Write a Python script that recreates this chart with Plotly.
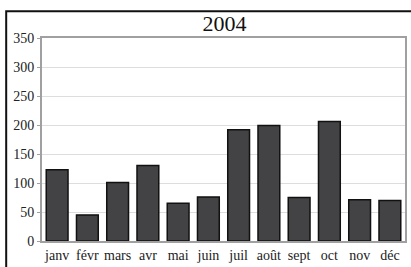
import plotly.graph_objects as go

months = ["janv", "févr", "mars", "avr", "mai", "juin", "juil", "août", "sept", "oct", "nov", "déc"]
values = [123, 45, 101, 130, 65, 76, 192, 199, 75, 206, 71, 70]
y_ticks = [0, 50, 100, 150, 200, 250, 300, 350]
title_text = "2004"

W, H = 411, 267
L, R, T, B = 42, 4, 38, 25
pw, ph = W - L - R, H - T - B

fig = go.Figure(go.Bar(
    x=months, y=values,
    marker=dict(color="#434345", line=dict(color="#111111", width=1.5)),
    width=0.72,
    hoverinfo="skip",
))

font = "Liberation Serif"
fig.update_layout(
    width=W, height=H,
    margin=dict(l=L, r=R, t=T, b=B),
    paper_bgcolor="white", plot_bgcolor="white",
    showlegend=False,
    font=dict(family=font, size=14, color="#222222"),
    title=dict(text=title_text, x=(L + pw / 2) / W, xanchor="center",
               y=1 - 23 / H, yanchor="middle",
               font=dict(family=font, size=22, color="#111111")),
    xaxis=dict(showline=True, linecolor="#a0a0a0", linewidth=2, mirror=True,
               showgrid=False, ticks="", tickfont=dict(family=font, size=14)),
    yaxis=dict(range=[0, 350], tickvals=y_ticks, showline=True, linecolor="#a0a0a0",
               linewidth=2, mirror=True, showgrid=True, gridcolor="#dddddd",
               gridwidth=1, zeroline=False, ticks="outside", ticklen=3,
               tickcolor="#a0a0a0", tickfont=dict(family=font, size=14)),
    shapes=[dict(type="rect", xref="paper", yref="paper",
                 x0=(6 - L) / pw, x1=(W + 10 - L) / pw,
                 y0=-(B + 10) / ph, y1=(H - B - 11) / ph,
                 line=dict(color="#111111", width=2), fillcolor="rgba(0,0,0,0)")],
)

fig.write_html("out.html", config={"displayModeBar": False},
               post_script="document.body.style.margin='0';document.body.style.overflow='hidden';")
